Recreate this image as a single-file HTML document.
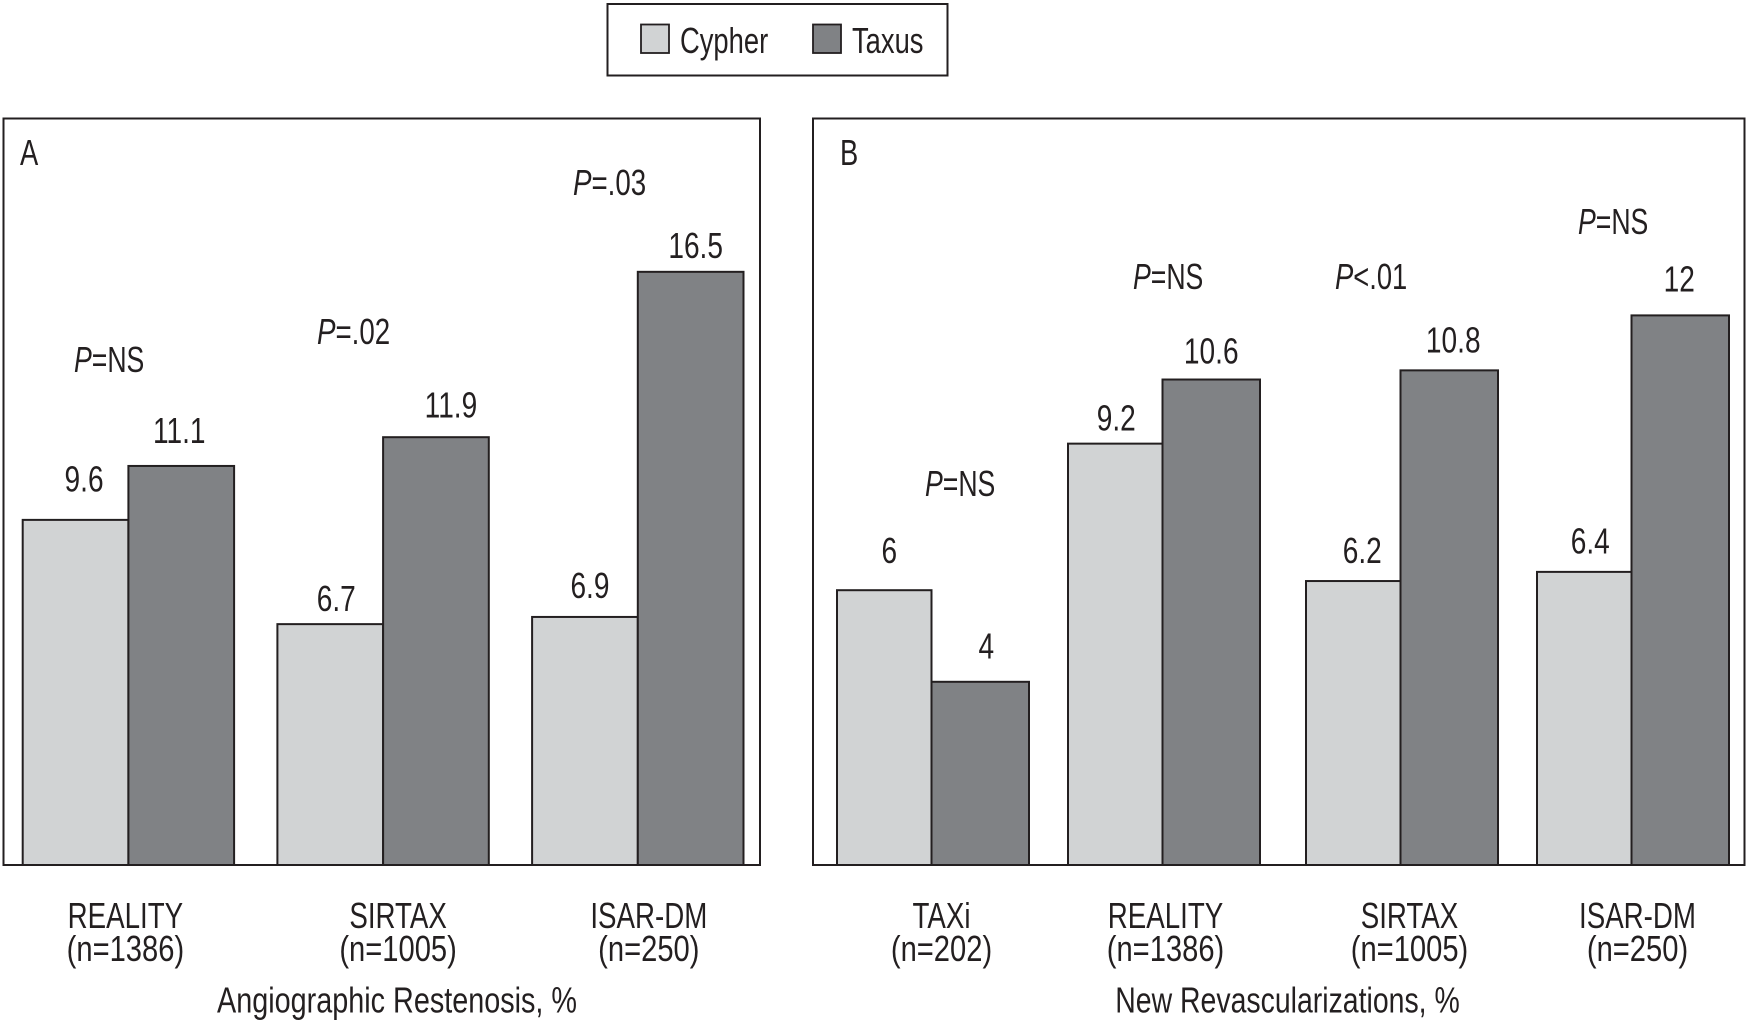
<!DOCTYPE html>
<html lang="en">
<head>
<meta charset="utf-8">
<title>Cypher vs Taxus: Angiographic Restenosis and New Revascularizations</title>
<style>
html,body{margin:0;padding:0;background:#fff;}
svg{display:block;}
text{font-family:"Liberation Sans",sans-serif;font-size:36px;fill:#231f20;}
</style>
</head>
<body>
<svg id="chart" xmlns="http://www.w3.org/2000/svg" width="1748" height="1024" viewBox="0 0 1748 1024">
  <g>
    <rect x="607.5" y="4" width="340" height="71.5" fill="#fff" stroke="#231f20" stroke-width="2"/>
    <rect x="641" y="24.5" width="28" height="28.5" fill="#d1d3d4" stroke="#231f20" stroke-width="1.8"/>
    <text transform="translate(680,53) scale(0.76,1)">Cypher</text>
    <rect x="813" y="24.5" width="28" height="28.5" fill="#808285" stroke="#231f20" stroke-width="1.8"/>
    <text transform="translate(852,53) scale(0.76,1)">Taxus</text>
  </g>
  <rect x="3.5" y="118.5" width="756.5" height="746.5" fill="#fff" stroke="#231f20" stroke-width="2"/>
  <rect x="813" y="118.5" width="931.5" height="746.5" fill="#fff" stroke="#231f20" stroke-width="2"/>
  <g id="bars"></g>
  <g id="labels"></g>
  <text transform="translate(20,165) scale(0.76,1)">A</text>
  <text transform="translate(840,165) scale(0.76,1)">B</text>

  <g>
    <text transform="translate(74,372) scale(0.74,1)"><tspan font-style="italic">P</tspan>=NS</text>
    <text transform="translate(317,344) scale(0.77,1)"><tspan font-style="italic">P</tspan>=.02</text>
    <text transform="translate(573,195) scale(0.77,1)"><tspan font-style="italic">P</tspan>=.03</text>
  </g>
  <g>
    <text transform="translate(925,496) scale(0.74,1)"><tspan font-style="italic">P</tspan>=NS</text>
    <text transform="translate(1133,289) scale(0.74,1)"><tspan font-style="italic">P</tspan>=NS</text>
    <text transform="translate(1335,289) scale(0.76,1)"><tspan font-style="italic">P</tspan>&lt;.01</text>
    <text transform="translate(1578,234) scale(0.74,1)"><tspan font-style="italic">P</tspan>=NS</text>
  </g>

  <text text-anchor="middle" transform="translate(397,1012.5) scale(0.80,1)">Angiographic Restenosis, %</text>
  <text text-anchor="middle" transform="translate(1287.5,1012.5) scale(0.79,1)">New Revascularizations, %</text>
</svg>
<script>
// Panel A data
const categoriesA = ["REALITY", "SIRTAX", "ISAR-DM"];
const sampleSizesA = ["(n=1386)", "(n=1005)", "(n=250)"];
const cypherA = [9.6, 6.7, 6.9];
const taxusA = [11.1, 11.9, 16.5];

// Panel B data
const categoriesB = ["TAXi", "REALITY", "SIRTAX", "ISAR-DM"];
const sampleSizesB = ["(n=202)", "(n=1386)", "(n=1005)", "(n=250)"];
const cypherB = [6, 9.2, 6.2, 6.4];
const taxusB = [4, 10.6, 10.8, 12];

// Layout (separate from data)
const BASELINE = 865;
const panels = [
  {
    key: "a", cats: categoriesA, ns: sampleSizesA, cypher: cypherA, taxus: taxusA,
    start: 22.7, step: 254.7, wC: 105.7, wT: 105.7, unit: 35.95,
    bandNudge: [0, 0, 0],
    catNudge: [-3, 15, 11],
    cNudgeX: [8.5, 6, 5], cNudgeY: [28.5, 13, 19],
    tNudgeX: [-2, 15, 5], tNudgeY: [23, 19.5, 14]
  },
  {
    key: "b", cats: categoriesB, ns: sampleSizesB, cypher: cypherB, taxus: taxusB,
    start: 837, step: 234, wC: 94.5, wT: 97.5, unit: 45.8,
    bandNudge: [0, -3, 1, -2],
    catNudge: [10, 3, 9, 6],
    cNudgeX: [5, 1, 9, 6], cNudgeY: [27, 13, 18, 18.5],
    tNudgeX: [6, 0, 4, -1], tNudgeY: [23.5, 16, 18, 24]
  }
];

const NS = "http://www.w3.org/2000/svg";
const barLayer = document.getElementById("bars");
const labelLayer = document.getElementById("labels");

function yScale(panel, v) { return BASELINE - v * panel.unit; }
function xBand(panel, i) { return panel.start + panel.step * i + panel.bandNudge[i]; }

function drawBar(panel, i, v, x, w, fill, series) {
  const r = document.createElementNS(NS, "rect");
  const y = yScale(panel, v);
  r.setAttribute("x", x);
  r.setAttribute("y", y);
  r.setAttribute("width", w);
  r.setAttribute("height", BASELINE - y);
  r.setAttribute("fill", fill);
  r.setAttribute("stroke", "#231f20");
  r.setAttribute("stroke-width", "2");
  
  
  barLayer.appendChild(r);
}

function drawText(str, cx, y, sx, name) {
  const t = document.createElementNS(NS, "text");
  t.setAttribute("text-anchor", "middle");
  t.setAttribute("transform", "translate(" + cx + "," + y + ") scale(" + sx + ",1)");
  t.textContent = str;
  
  
  labelLayer.appendChild(t);
}

panels.forEach(function (p) {
  p.cats.forEach(function (cat, i) {
    const x0 = xBand(p, i);
    const slug = p.key + '-' + cat.toLowerCase();
    drawBar(p, i, p.cypher[i], x0, p.wC, "#d1d3d4", "cypher");
    drawBar(p, i, p.taxus[i], x0 + p.wC, p.wT, "#808285", "taxus");

    drawText(String(p.cypher[i]), x0 + p.wC / 2 + p.cNudgeX[i], yScale(p, p.cypher[i]) - p.cNudgeY[i], 0.78, 'value-label-cypher-' + slug);
    drawText(String(p.taxus[i]), x0 + p.wC + p.wT / 2 + p.tNudgeX[i], yScale(p, p.taxus[i]) - p.tNudgeY[i], 0.78, 'value-label-taxus-' + slug);

    const cx = x0 + p.wC + p.catNudge[i];
    drawText(cat, cx, 928, 0.77, 'category-label-' + slug);
    drawText(p.ns[i], cx, 961, 0.81, 'sample-size-label-' + slug);
  });
});
</script>
</body>
</html>
